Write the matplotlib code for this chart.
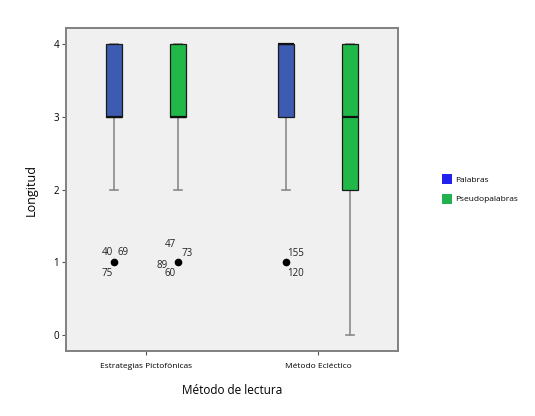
import matplotlib
matplotlib.use("Agg")
import matplotlib.pyplot as plt
from matplotlib.patches import Patch

plt.rcParams['font.family'] = ['Open Sans', 'DejaVu Sans']

categories = ["Estrategias Pictofónicas", "Método Ecléctico"]
series = ["Palabras", "Pseudopalabras"]
# per series: values per category
q1 = {"Palabras": [3, 3], "Pseudopalabras": [3, 2]}
med = {"Palabras": [3, 4], "Pseudopalabras": [3, 3]}
q3 = {"Palabras": [4, 4], "Pseudopalabras": [4, 4]}
whislo = {"Palabras": [2, 2], "Pseudopalabras": [2, 0]}
whishi = {"Palabras": [4, 4], "Pseudopalabras": [4, 4]}
fliers = {"Palabras": [[1], [1]], "Pseudopalabras": [[1], []]}
flier_labels = {
    ("Palabras", 0): [("40", -7, 10), ("69", 9, 10), ("75", -7, -11)],
    ("Pseudopalabras", 0): [("47", -8, 18), ("73", 9, 9), ("89", -16, -3), ("60", -8, -11)],
    ("Palabras", 1): [("155", 10, 9), ("120", 10, -11)],
}
box_colors = {"Palabras": "#3d5bb0", "Pseudopalabras": "#21b84a"}
legend_colors = {"Palabras": "#2222ee", "Pseudopalabras": "#22b14c"}
offsets = {"Palabras": -0.186, "Pseudopalabras": 0.186}

fig = plt.figure(figsize=(5.35, 4.16), dpi=100)
ax = fig.add_axes([66 / 535, 1 - 351 / 416, (398 - 66) / 535, (351 - 28) / 416])
ax.set_facecolor("#f0f0f0")

for s in series:
    stats = []
    for i in range(len(categories)):
        stats.append(dict(q1=q1[s][i], med=med[s][i], q3=q3[s][i],
                          whislo=whislo[s][i], whishi=whishi[s][i],
                          fliers=fliers[s][i]))
    pos = [i + offsets[s] for i in range(len(categories))]
    ax.bxp(stats, positions=pos, widths=0.093, patch_artist=True, showfliers=True,
           boxprops=dict(facecolor=box_colors[s], edgecolor="#1a1a1a", linewidth=0.9, zorder=3),
           medianprops=dict(color="#111111", linewidth=1.6, zorder=4),
           whiskerprops=dict(color="#8a8a8a", linewidth=1.2, zorder=2),
           capprops=dict(color="#8a8a8a", linewidth=1.2, zorder=2),
           capwidths=0.045,
           flierprops=dict(marker="o", markerfacecolor="black", markeredgecolor="black",
                           markersize=4.5))
    for i in range(len(categories)):
        for lab, dx, dy in flier_labels.get((s, i), []):
            ax.annotate(lab, (i + offsets[s], fliers[s][i][0]), xytext=(dx, dy),
                        textcoords="offset pixels", ha="center", va="center",
                        fontsize=7, color="#222222")

ax.set_xlim(-0.465, 1.465)
ax.set_ylim(-0.22, 4.22)
ax.set_xticks(range(len(categories)))
ax.set_xticklabels(categories, fontsize=6)
ax.set_yticks([0, 1, 2, 3, 4])
ax.set_yticklabels(["0", "1", "2", "3", "4"], fontsize=7)
ax.tick_params(axis="both", direction="out", length=3, width=0.8, color="#555555")
ax.tick_params(axis="y", pad=2)
ax.tick_params(axis="x", pad=6)
for sp in ax.spines.values():
    sp.set_color("#808080")
    sp.set_linewidth(1.4)

ax.set_ylabel("Longitud", fontsize=9, labelpad=11)
ax.set_xlabel("Método de lectura", fontsize=8.5, labelpad=10)

handles = [Patch(facecolor=legend_colors[s], edgecolor="none") for s in series]
fig.legend(handles, series, loc="center left", bbox_to_anchor=(434 / 535, 1 - 189 / 416),
           frameon=False, fontsize=6, handlelength=1.25, handleheight=1.5,
           handletextpad=0.4, labelspacing=1.1)

fig.savefig("out.png", dpi=100, facecolor="white")
